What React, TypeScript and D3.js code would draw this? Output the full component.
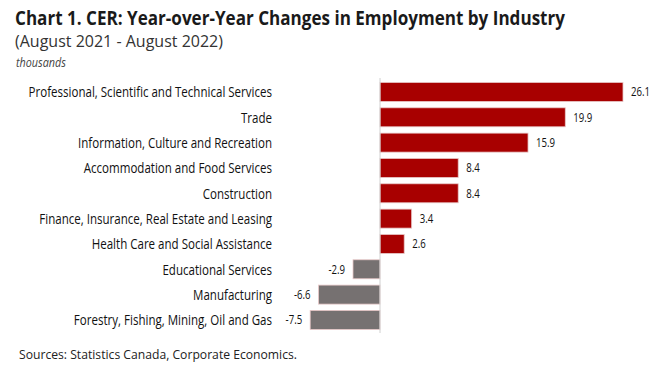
import React from "react";
import * as d3 from "d3";

const categories = [
  "Professional, Scientific and Technical Services",
  "Trade",
  "Information, Culture and Recreation",
  "Accommodation and Food Services",
  "Construction",
  "Finance, Insurance, Real Estate and Leasing",
  "Health Care and Social Assistance",
  "Educational Services",
  "Manufacturing",
  "Forestry, Fishing, Mining, Oil and Gas",
];
const values = [26.1, 19.9, 15.9, 8.4, 8.4, 3.4, 2.6, -2.9, -6.6, -7.5];

const W = 663;
const H = 368;
const FONT = "'Open Sans', 'Noto Sans', sans-serif";
const SX = 0.77;

const fmt = (v: number) => v.toFixed(1);

export default function App() {
  const x = d3.scaleLinear().domain([0, 26.1]).range([380, 623]);
  const y = d3.scaleBand<string>().domain(categories).range([79.3, 332.6]).paddingInner(0.25).paddingOuter(0.125);

  return (
    <svg width={W} height={H} style={{ position: "absolute", left: 0, top: 0, background: "#fff" }}>
      <text x={15} y={25} fontFamily={FONT} fontWeight={700} fontSize={19.5} fill="#1a1a1a" textLength={550} lengthAdjust="spacingAndGlyphs">
        Chart 1. CER: Year-over-Year Changes in Employment by Industry
      </text>
      <text x={15} y={47} fontFamily={FONT} fontSize={15.5} fill="#333" textLength={208} lengthAdjust="spacingAndGlyphs">
        (August 2021 - August 2022)
      </text>
      <text x={16} y={67} fontFamily={FONT} fontStyle="italic" fontSize={13} fill="#444" textLength={50} lengthAdjust="spacingAndGlyphs">
        thousands
      </text>
      {categories.map((c, i) => {
        const v = values[i];
        const yy = y(c)!;
        const bw = y.bandwidth();
        const x0 = x(Math.min(0, v));
        const x1 = x(Math.max(0, v));
        const lx = v >= 0 ? x1 + 8 : x0 - 8;
        return (
          <g key={c}>
            <rect x={x0} y={yy} width={x1 - x0} height={bw} fill={v >= 0 ? "#A80000" : "#767171"} stroke="#e8c8c8" strokeWidth={0.8} />
            <g transform={`scale(${SX},1)`}>
              <text x={272 / SX} y={yy + bw / 2} dy="0.35em" textAnchor="end" fontFamily={FONT} fontSize={15} fill="#111">
                {c}
              </text>
              <text
                x={lx / SX}
                y={yy + bw / 2}
                dy="0.35em"
                textAnchor={v >= 0 ? "start" : "end"}
                fontFamily={FONT}
                fontSize={12.5}
                fill="#111"
              >
                {fmt(v)}
              </text>
            </g>
          </g>
        );
      })}
      <line x1={x(0)} x2={x(0)} y1={78} y2={333} stroke="#d0d0d0" strokeWidth={1} />
      <text x={19} y={359} fontFamily={FONT} fontSize={13} fill="#222" textLength={278} lengthAdjust="spacingAndGlyphs">
        Sources: Statistics Canada, Corporate Economics.
      </text>
    </svg>
  );
}
